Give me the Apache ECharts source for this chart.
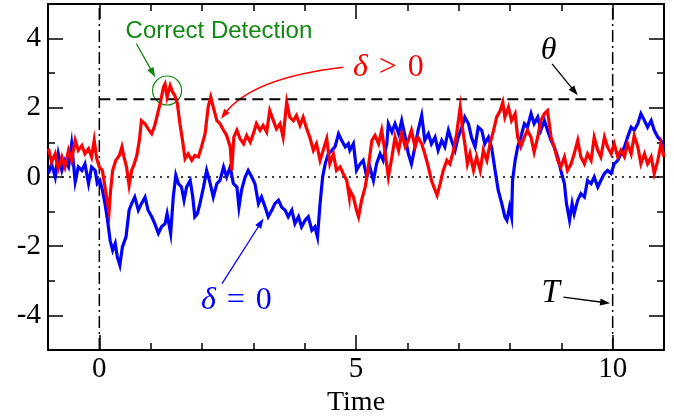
<!DOCTYPE html>
<html>
<head>
<meta charset="utf-8">
<script src="https://cdn.jsdelivr.net/npm/echarts@6/dist/echarts.min.js"></script>
<style>
html, body { margin: 0; padding: 0; background: #fff; }
#chart { width: 674px; height: 418px; }
</style>
</head>
<body>
<div id="chart"></div>
<script>
// values
const redX = [
    -0.99,-0.93,-0.86,-0.80,-0.73,-0.67,-0.60,-0.54,-0.47,-0.41,
    -0.34,-0.28,-0.21,-0.15,-0.10,-0.05,0.00,0.06,0.11,0.14,
    0.19,0.22,0.26,0.32,0.39,0.44,0.48,0.53,0.58,0.63,
    0.68,0.73,0.78,0.82,0.89,0.95,1.02,1.08,1.15,1.19,
    1.25,1.28,1.32,1.38,1.43,1.47,1.52,1.57,1.62,1.67,
    1.73,1.80,1.86,1.93,1.99,2.06,2.12,2.17,2.22,2.29,
    2.35,2.42,2.48,2.55,2.58,2.62,2.68,2.74,2.81,2.87,
    2.94,3.00,3.06,3.13,3.19,3.26,3.32,3.39,3.45,3.52,
    3.58,3.65,3.71,3.78,3.84,3.91,3.97,4.04,4.10,4.17,
    4.23,4.30,4.36,4.43,4.49,4.56,4.62,4.69,4.75,4.82,4.87,
    4.88,4.95,5.01,5.05,5.11,5.18,5.24,5.31,5.37,5.44,
    5.50,5.57,5.63,5.70,5.76,5.83,5.89,5.96,6.02,6.08,
    6.15,6.21,6.28,6.34,6.41,6.47,6.54,6.58,6.64,6.70,
    6.77,6.83,6.90,6.96,7.03,7.08,7.12,7.17,7.22,7.29,
    7.35,7.42,7.48,7.55,7.61,7.68,7.74,7.81,7.86,7.90,
    7.97,8.03,8.10,8.15,8.21,8.28,8.34,8.41,8.47,8.54,
    8.60,8.67,8.73,8.80,8.86,8.93,8.99,9.06,9.12,9.19,
    9.25,9.32,9.38,9.45,9.51,9.58,9.64,9.71,9.77,9.84,
    9.90,9.97,10.03,10.10,10.16,10.23,10.29,10.36,10.42,10.49,
    10.55,10.62,10.68,10.75,10.81,10.88,10.94,11.00
];
const redY = [
    0.82,0.43,0.67,0.24,0.58,0.29,0.77,0.48,1.06,0.77,
    0.91,0.67,0.82,0.58,1.06,0.53,0.29,0.19,-0.29,-0.58,
    -1.01,-0.38,0.19,0.48,0.62,0.87,0.58,0.29,-0.24,0.19,
    0.38,0.62,1.06,1.63,1.54,1.39,1.25,1.49,1.92,2.16,
    2.60,2.69,2.31,2.64,2.45,2.36,2.12,1.54,1.06,0.53,
    0.67,0.48,0.62,0.58,0.87,1.25,2.02,2.31,2.02,1.63,
    1.54,1.35,1.20,0.87,0.19,1.15,1.35,1.11,0.96,1.20,
    1.01,1.25,1.54,1.35,1.49,1.30,1.92,1.63,1.39,1.54,
    1.15,2.16,1.73,1.63,1.78,1.49,1.73,1.39,1.15,0.77,
    0.96,0.48,0.77,1.11,0.38,0.67,0.19,0.29,0.10,-0.10,-0.58,
    -0.38,-0.58,-0.96,-1.15,-0.67,-0.29,0.29,1.06,1.20,0.96,
    1.35,0.67,0.00,0.58,1.15,0.77,1.25,0.87,1.06,1.35,
    0.87,1.15,0.96,0.67,0.29,-0.10,-0.38,-0.53,-0.19,0.19,
    0.48,0.38,0.77,1.25,2.02,1.35,0.96,0.38,0.67,0.19,
    0.58,0.19,0.77,0.48,0.96,1.35,1.73,1.92,2.16,1.73,
    2.02,1.63,1.83,1.15,0.87,1.15,1.35,1.15,0.72,1.15,
    1.63,1.83,1.92,1.15,0.87,0.48,0.29,0.58,0.19,0.38,
    0.67,1.06,0.58,0.38,0.67,0.48,1.15,0.77,0.58,1.15,
    0.87,0.67,0.96,0.58,0.77,0.58,0.96,0.67,1.20,0.87,
    0.38,0.67,0.38,0.58,0.10,0.48,0.96,0.58
];
const blueX = [
    -0.99,-0.93,-0.86,-0.80,-0.73,-0.67,-0.60,-0.54,-0.47,-0.41,
    -0.34,-0.28,-0.21,-0.15,-0.08,-0.04,0.01,0.06,0.11,0.16,
    0.21,0.26,0.31,0.35,0.40,0.45,0.52,0.58,0.63,0.69,
    0.76,0.82,0.89,0.95,1.02,1.08,1.15,1.21,1.28,1.32,
    1.39,1.44,1.49,1.54,1.60,1.65,1.70,1.77,1.82,1.86,
    1.91,1.96,2.03,2.09,2.16,2.22,2.29,2.35,2.42,2.48,
    2.55,2.61,2.68,2.72,2.77,2.84,2.90,2.97,3.03,3.10,
    3.16,3.23,3.29,3.36,3.42,3.49,3.55,3.62,3.68,3.75,
    3.81,3.88,3.94,4.01,4.07,4.14,4.20,4.25,4.30,4.35,
    4.40,4.46,4.53,4.59,4.66,4.72,4.79,4.85,
    4.88,4.95,5.01,5.08,5.14,5.21,5.27,5.34,5.40,5.47,
    5.53,5.60,5.63,5.70,5.76,5.83,5.89,5.96,6.02,6.08,
    6.15,6.21,6.28,6.34,6.41,6.47,6.54,6.60,6.67,6.73,
    6.80,6.86,6.93,6.99,7.06,7.12,7.19,7.25,7.32,7.38,
    7.45,7.51,7.58,7.64,7.71,7.77,7.84,7.90,7.94,7.99,
    8.03,8.05,8.10,8.15,8.21,8.28,8.34,8.41,8.47,8.54,
    8.60,8.67,8.73,8.80,8.86,8.93,8.99,9.06,9.10,9.16,
    9.21,9.25,9.32,9.38,9.45,9.51,9.58,9.64,9.71,9.77,
    9.84,9.90,9.97,10.03,10.10,10.16,10.23,10.29,10.36,10.42,
    10.49,10.55,10.62,10.68,10.75,10.81,10.88,10.94,11.00
];
const blueY = [
    0.10,0.38,0.00,0.67,0.19,0.48,0.29,0.95,-0.14,0.29,
    0.19,0.38,-0.19,0.29,0.19,-0.19,-0.10,-0.38,-0.77,-1.25,
    -1.83,-2.12,-1.92,-2.31,-2.55,-2.02,-1.73,-0.96,-0.77,-0.58,
    -0.96,-0.77,-0.58,-0.96,-1.15,-1.35,-1.63,-1.44,-1.35,-1.06,
    -1.63,-0.58,0.05,-0.19,-0.29,-0.67,-0.29,-0.10,-0.58,-1.15,
    -1.06,-0.77,-0.29,0.19,-0.19,-0.58,-0.19,-0.10,0.29,0.00,
    0.29,-0.19,-0.29,-0.87,-0.38,0.00,0.19,0.00,-0.19,-0.77,
    -0.58,-0.87,-1.15,-0.96,-0.77,-0.67,-0.87,-0.96,-1.15,-0.96,
    -1.35,-1.15,-1.44,-1.25,-1.15,-1.54,-1.44,-1.73,-0.77,0.00,
    0.38,0.67,0.77,0.87,1.25,1.06,0.87,0.96,
    0.77,0.96,0.19,0.38,0.48,0.00,0.29,-0.10,0.38,0.67,
    0.48,0.96,1.54,1.30,1.54,1.25,1.63,1.15,0.67,0.38,
    0.87,1.35,1.78,1.06,1.25,0.96,1.15,0.77,1.06,0.87,
    1.35,1.06,0.77,1.15,1.44,1.73,1.54,1.15,0.87,1.44,
    1.35,0.96,1.15,0.87,0.19,-0.38,-0.77,-1.15,-1.25,-0.87,
    -1.15,-0.10,0.48,0.87,1.15,1.54,1.44,1.83,1.54,1.73,
    1.35,1.63,1.35,1.06,0.87,0.58,0.19,-0.19,-0.77,-1.25,
    -0.77,-1.06,-0.67,-0.48,-0.58,-0.10,-0.19,0.00,-0.29,-0.10,
    0.10,0.19,0.10,0.38,0.48,0.67,0.87,1.15,1.44,1.35,
    1.54,1.83,1.63,1.44,1.63,1.35,1.15,1.06,0.87
];

const xMajor = [0, 5, 10];
const xMinor = [-1, 1, 2, 3, 4, 6, 7, 8, 9, 11];
const yMajor = [-4, -2, 0, 2, 4];
const yMinor = [-3, -1, 1, 3];
const thetaLevel = 2.25;
const horizon = [0, 10];

const serif = 'Liberation Serif';
let chart = echarts.init(document.getElementById('chart'));

function makeAxis(dim, pos, vals, len, withLabel) {
    let range = dim === 'x' ? { min: -1, max: 11 } : { min: -5, max: 5 };
    return Object.assign({
        type: 'value',
        position: pos,
        axisLine: { show: withLabel !== null, onZero: false, lineStyle: { color: '#000', width: 2 } },
        axisTick: { show: true, inside: true, length: len, customValues: vals, lineStyle: { color: '#000', width: 1.5 } },
        axisLabel: withLabel ? {
            show: true, customValues: vals, margin: dim === 'x' ? 5 : 7,
            color: '#000', fontFamily: serif, fontSize: 29
        } : { show: false },
        splitLine: { show: false }
    }, range);
}

let xb = makeAxis('x', 'bottom', xMajor, 15, true);
xb.name = 'Time';
xb.nameLocation = 'middle';
xb.nameGap = 31;
xb.nameTextStyle = { color: '#000', fontFamily: serif, fontSize: 28 };

let option = {
    animation: false,
    grid: { left: 48, right: 10, top: 4, bottom: 68, containLabel: false, outerBoundsMode: 'none' },
    xAxis: [
        xb,
        makeAxis('x', 'bottom', xMinor, 7, null),
        makeAxis('x', 'top', xMajor, 15, false),
        makeAxis('x', 'top', xMinor, 7, null)
    ],
    yAxis: [
        makeAxis('y', 'left', yMajor, 15, true),
        makeAxis('y', 'left', yMinor, 7, null),
        makeAxis('y', 'right', yMajor, 15, false),
        makeAxis('y', 'right', yMinor, 7, null)
    ],
    series: [
        {
            type: 'line', data: [[-1, 0], [11, 0]], showSymbol: false, silent: true,
            lineStyle: { color: '#000', width: 1.5, type: [2, 5] }
        },
        {
            type: 'line', data: [[horizon[0], -5], [horizon[0], 5]], showSymbol: false, silent: true,
            lineStyle: { color: '#000', width: 1.5, type: [12, 4, 2, 4] }
        },
        {
            type: 'line', data: [[horizon[1], -5], [horizon[1], 5]], showSymbol: false, silent: true,
            lineStyle: { color: '#000', width: 1.5, type: [12, 4, 2, 4] }
        },
        {
            type: 'line', data: [[horizon[0], thetaLevel], [horizon[1], thetaLevel]], showSymbol: false, silent: true,
            lineStyle: { color: '#000', width: 2, type: [11, 6] }
        },
        {
            type: 'line', data: blueX.map((x, i) => [x, blueY[i]]), showSymbol: false,
            lineStyle: { color: '#0000ff', width: 3.2, join: 'miter' }
        },
        {
            type: 'line', data: redX.map((x, i) => [x, redY[i]]), showSymbol: false,
            lineStyle: { color: '#ff0000', width: 3.2, join: 'miter' }
        }
    ]
};
chart.setOption(option);

// annotations, anchored in data units
function px(pt) {
    return chart.convertToPixel({ xAxisIndex: 0, yAxisIndex: 0 }, pt);
}
function head(tip, ang, color) {
    let len = 10, half = 3.5;
    let bx = tip[0] - len * Math.cos(ang), by = tip[1] - len * Math.sin(ang);
    return {
        type: 'polygon', silent: true,
        shape: { points: [tip, [bx + half * Math.sin(ang), by - half * Math.cos(ang)], [bx - half * Math.sin(ang), by + half * Math.cos(ang)]] },
        style: { fill: color }
    };
}
function arrow(from, to, color) {
    let a = px(from), b = px(to);
    let ang = Math.atan2(b[1] - a[1], b[0] - a[0]);
    return [
        { type: 'line', silent: true, shape: { x1: a[0], y1: a[1], x2: b[0] - 8 * Math.cos(ang), y2: b[1] - 8 * Math.sin(ang) }, style: { stroke: color, lineWidth: 1.3 } },
        head(b, ang, color)
    ];
}
function label(at, text, color, font, rich) {
    let p = px(at);
    return {
        type: 'text', silent: true, x: p[0], y: p[1],
        style: { text: text, fill: color, font: font, align: 'center', verticalAlign: 'middle', rich: rich }
    };
}
function mathRich(color) {
    return {
        i: { fontStyle: 'italic', fontFamily: serif, fontSize: 32, fill: color },
        o: { fontFamily: serif, fontSize: 32, fill: color, padding: [0, 11, 0, 11] },
        n: { fontFamily: serif, fontSize: 32, fill: color }
    };
}

let g = [];
// Correct Detection
g.push(label([2.33, 4.20], 'Correct Detection', '#118811', '24px "Liberation Sans"'));
let c = px([1.32, 2.50]);
g.push({ type: 'circle', silent: true, shape: { cx: c[0], cy: c[1], r: 14.5 }, style: { fill: 'none', stroke: '#118811', lineWidth: 1.2 } });
g = g.concat(arrow([0.72, 3.86], [1.09, 2.88], '#118811'));

// delta > 0 with a curved arrow
g.push(label([5.63, 3.17], '{i|δ}{o|>}{n|0}', '#ff0000', '32px "Liberation Serif"', mathRich('#ff0000')));
let p0 = px([4.75, 3.17]), cp = px([2.96, 2.86]), p2 = px([2.37, 1.68]);
let endAng = Math.atan2(p2[1] - cp[1], p2[0] - cp[0]);
g.push({ type: 'bezierCurve', silent: true, shape: { x1: p0[0], y1: p0[1], cpx1: cp[0], cpy1: cp[1], x2: p2[0] - 6 * Math.cos(endAng), y2: p2[1] - 6 * Math.sin(endAng) }, style: { stroke: '#ff0000', lineWidth: 1.5, fill: 'none' } });
g.push(head(p2, endAng, '#ff0000'));

// delta = 0
g.push(label([2.67, -3.56], '{i|δ}{o|=}{n|0}', '#0000ff', '32px "Liberation Serif"', mathRich('#0000ff')));
g = g.concat(arrow([2.39, -3.08], [3.20, -1.20], '#0000ff'));

// theta and T
g.push(label([8.75, 3.66], 'θ', '#000', 'italic 32px "Liberation Serif"'));
g = g.concat(arrow([8.82, 3.27], [9.32, 2.36], '#000'));
g.push(label([8.79, -3.36], 'T', '#000', 'italic 33px "Liberation Serif"'));
g = g.concat(arrow([9.04, -3.47], [9.95, -3.65], '#000'));

chart.setOption({ graphic: g });
</script>
</body>
</html>
